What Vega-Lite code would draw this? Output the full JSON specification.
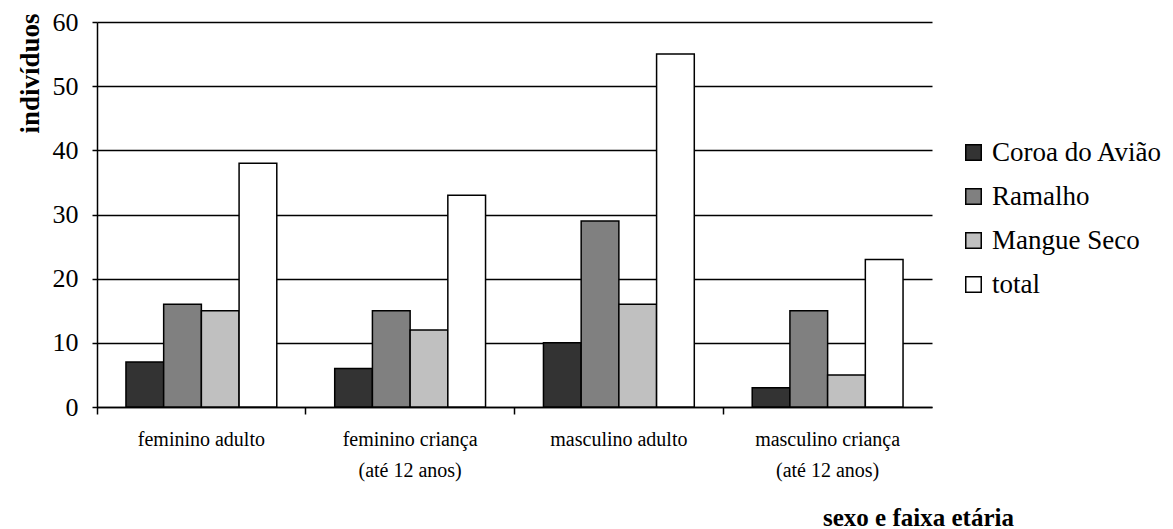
{
  "$schema": "https://vega.github.io/schema/vega-lite/v6.json",
  "autosize": "none",
  "width": 835,
  "height": 385,
  "padding": {"left": 97, "top": 22, "right": 241, "bottom": 122},
  "background": "white",
  "config": {
    "view": {"stroke": null},
    "font": "Liberation Serif, Times New Roman, serif",
    "legend": {"labelFont": "Liberation Serif, Times New Roman, serif"},
    "axis": {"labelFont": "Liberation Serif, Times New Roman, serif", "titleFont": "Liberation Serif, Times New Roman, serif"}
  },
  "data": {
    "values": [
      {"grupo": "feminino adulto", "local": "Coroa do Avião", "n": 7},
      {"grupo": "feminino adulto", "local": "Ramalho", "n": 16},
      {"grupo": "feminino adulto", "local": "Mangue Seco", "n": 15},
      {"grupo": "feminino adulto", "local": "total", "n": 38},
      {"grupo": "feminino criança (até 12 anos)", "local": "Coroa do Avião", "n": 6},
      {"grupo": "feminino criança (até 12 anos)", "local": "Ramalho", "n": 15},
      {"grupo": "feminino criança (até 12 anos)", "local": "Mangue Seco", "n": 12},
      {"grupo": "feminino criança (até 12 anos)", "local": "total", "n": 33},
      {"grupo": "masculino adulto", "local": "Coroa do Avião", "n": 10},
      {"grupo": "masculino adulto", "local": "Ramalho", "n": 29},
      {"grupo": "masculino adulto", "local": "Mangue Seco", "n": 16},
      {"grupo": "masculino adulto", "local": "total", "n": 55},
      {"grupo": "masculino criança (até 12 anos)", "local": "Coroa do Avião", "n": 3},
      {"grupo": "masculino criança (até 12 anos)", "local": "Ramalho", "n": 15},
      {"grupo": "masculino criança (até 12 anos)", "local": "Mangue Seco", "n": 5},
      {"grupo": "masculino criança (até 12 anos)", "local": "total", "n": 23}
    ]
  },
  "mark": {"type": "bar", "stroke": "black", "strokeWidth": 1.5},
  "encoding": {
    "x": {
      "field": "grupo",
      "type": "nominal",
      "sort": null,
      "scale": {"paddingInner": 0, "paddingOuter": 0},
      "axis": {
        "title": "sexo e faixa etária",
        "titleFontSize": 25,
        "titleFontWeight": "bold",
        "titleColor": "black",
        "titleX": 821,
        "titleY": 110,
        "titleAlign": "center",
        "titleBaseline": "middle",
        "labelAngle": 0,
        "labelFontSize": 20,
        "labelColor": "black",
        "labelPadding": 15,
        "labelLineHeight": 31,
        "labelBaseline": "top",
        "labelExpr": "indexof(datum.label, '(') > 0 ? [slice(datum.label, 0, indexof(datum.label, '(') - 1), slice(datum.label, indexof(datum.label, '('))] : datum.label",
        "bandPosition": 0,
        "tickColor": "black",
        "tickSize": 7,
        "tickWidth": 1.5,
        "domainColor": "black",
        "domainWidth": 1.5,
        "grid": false
      }
    },
    "xOffset": {
      "field": "local",
      "type": "nominal",
      "sort": ["Coroa do Avião", "Ramalho", "Mangue Seco", "total"],
      "scale": {"paddingInner": 0, "paddingOuter": 0.768}
    },
    "y": {
      "field": "n",
      "type": "quantitative",
      "scale": {"domain": [0, 60], "nice": false},
      "axis": {
        "values": [0, 10, 20, 30, 40, 50, 60],
        "title": "indivíduos",
        "titleFontSize": 27,
        "titleFontWeight": "bold",
        "titleColor": "black",
        "titleX": -67,
        "titleY": -9,
        "titleAlign": "right",
        "titleBaseline": "middle",
        "labelFontSize": 26,
        "labelColor": "black",
        "labelPadding": 14,
        "tickColor": "black",
        "tickSize": 5,
        "tickWidth": 1.5,
        "domainColor": "black",
        "domainWidth": 1.5,
        "grid": true,
        "gridColor": "black",
        "gridWidth": 1.5,
        "gridOpacity": 1
      }
    },
    "fill": {
      "field": "local",
      "type": "nominal",
      "scale": {
        "domain": ["Coroa do Avião", "Ramalho", "Mangue Seco", "total"],
        "range": ["#333333", "#808080", "#c0c0c0", "#ffffff"]
      },
      "legend": {
        "title": null,
        "orient": "none",
        "legendX": 863,
        "legendY": 117,
        "symbolType": "square",
        "symbolSize": 240,
        "symbolStrokeColor": "black",
        "symbolStrokeWidth": 1.5,
        "symbolOpacity": 1,
        "labelFontSize": 27,
        "labelColor": "black",
        "labelOffset": 5,
        "rowPadding": 16,
        "labelLimit": 300
      }
    }
  }
}
